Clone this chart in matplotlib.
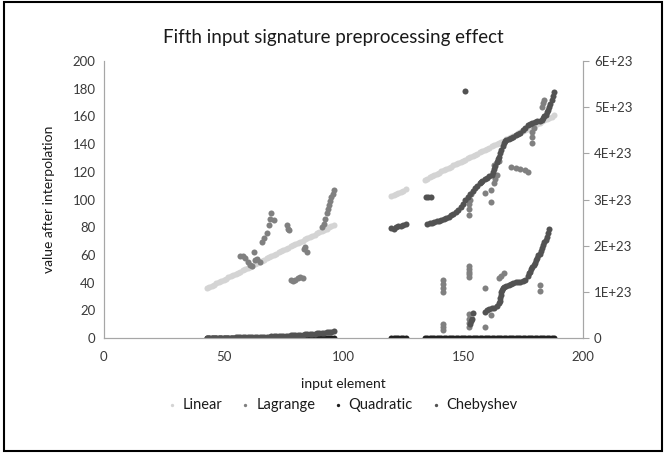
import matplotlib
matplotlib.use("Agg")
import matplotlib.pyplot as plt
from matplotlib.ticker import FuncFormatter, MultipleLocator
from matplotlib.patches import Rectangle
import numpy as np

plt.rcParams["font.family"] = ["Lato", "DejaVu Sans"]

# ---- data ----
linear_x = list(range(43, 97)) + list(range(120, 127)) + list(range(134, 189))
linear_y = [
    36.0, 36.9, 37.7, 38.6, 39.4, 40.3, 41.2, 42.0, 42.9, 43.7, 44.6, 45.5, 46.3, 47.2,
    48.0, 48.9, 49.8, 50.6, 51.5, 52.3, 53.2, 54.1, 54.9, 55.8, 56.6, 57.5, 58.4, 59.2,
    60.1, 60.9, 61.8, 62.7, 63.5, 64.4, 65.2, 66.1, 67.0, 67.8, 68.7, 69.5, 70.4, 71.3,
    72.1, 73.0, 73.8, 74.7, 75.6, 76.4, 77.3, 78.1, 79.0, 79.9, 80.7, 81.6,
    102.2, 103.1, 103.9, 104.8, 105.6, 106.5, 107.4,
    114.3, 115.1, 116.0, 116.8, 117.7, 118.6, 119.4, 120.3, 121.1, 122.0, 122.9, 123.7,
    124.6, 125.4, 126.3, 127.2, 128.0, 128.9, 129.7, 130.6, 131.5, 132.3, 133.2, 134.0,
    134.9, 135.8, 136.6, 137.5, 138.3, 139.2, 140.1, 140.9, 141.8, 142.6, 143.5, 144.4,
    145.2, 146.1, 146.9, 147.8, 148.7, 149.5, 150.4, 151.2, 152.1, 153.0, 153.8, 154.7,
    155.5, 156.4, 157.3, 158.1, 159.0, 159.8, 160.7,
]

lagrange_x = [
    57, 58, 59, 60, 61, 62, 62.6, 63, 64, 65, 66, 67, 68, 69, 69.5, 70, 71,
    76.5, 77, 77.5, 78, 79, 80, 81, 82, 83, 83.5, 84, 85,
    91, 92, 92.5, 93, 93.5, 94, 94.5, 95, 95.5, 96,
    141.5, 141.5, 141.5, 141.8, 141.8, 141.5, 141.8,
    152.5, 152.5, 152.5, 152.6, 152.5, 152.5, 152.5, 152.5, 152.6,
    159, 159, 161.8, 165, 166, 167, 182, 182.3,
    152.6, 152.6, 152.6, 153, 153.5, 159, 161.8, 161.8, 163, 163.5, 164,
    163, 164, 165, 170, 172, 174, 176, 177,
    178.6, 178.6, 179, 179.5, 182.8, 183.5, 184,
]
lagrange_y = [
    59, 59.5, 58, 55, 53, 52, 62, 56, 57, 55, 69.5, 72, 75.5, 81.6, 86, 90, 85,
    81.6, 79, 78, 42, 41.5, 42, 43, 44, 43, 64, 66, 62,
    80, 82, 86, 90, 93, 96, 99, 102, 104, 107,
    6, 8, 10, 33, 36, 39, 42,
    8, 11, 14, 17, 44, 46, 48, 50, 52,
    8, 36, 16.6, 43, 45, 47, 38, 34,
    89, 93, 97, 100, 104, 104.6, 107, 98, 112, 115, 118,
    125, 127, 128, 123.7, 123, 122, 121, 120,
    141, 145, 149, 152, 167, 170, 172,
]

quadratic_x = linear_x
quadratic_y = [0.0] * len(quadratic_x)

# Chebyshev on the secondary axis, values in units of 1E+23
chebyshev_x = [
    # near zero, first block
    43, 44, 45, 46, 47, 48, 49, 50, 51, 52, 53, 54, 55, 56, 57, 58, 59, 60, 61, 62,
    63, 64, 65, 66, 67, 68, 69, 70, 71, 72, 73, 74, 75, 76, 77, 78, 79, 80, 81, 82,
    83, 84, 85, 86, 87, 88, 89, 90, 91, 92, 93, 94, 95, 96,
    # short block
    120, 121, 122, 123, 124, 125, 126,
    134.5, 135.5, 136.5,
    # upper curve
    135, 136, 137, 138, 139, 140, 141, 142, 143, 144, 145, 146, 147, 148, 149, 150,
    151, 152, 153, 154, 155, 156, 157, 157.5, 158, 159, 160, 161, 162, 162.5, 163,
    163.5, 164, 164.5, 165, 165.5, 166, 166.5, 167, 167.5, 168, 169, 170, 171, 172,
    173, 174, 175, 176, 177, 178, 179, 180, 181, 182, 183, 183.5, 184, 184.5, 185,
    185.5, 186, 186.5, 187, 187.5, 188,
    # lower curve
    153, 153.3, 153.6, 154, 159, 160, 161, 162, 163, 164, 165, 165.3, 165.6, 165.8,
    166, 166.3, 166.6, 167, 168, 169, 170, 171, 172, 173, 174, 175, 176, 177, 177.5,
    178, 178.5, 179, 179.5, 180, 180.5, 181, 181.5, 182, 182.5, 183, 183.5, 184,
    184.5, 185, 185.5, 186,
    # outlier
    151,
]
chebyshev_e23 = [
    0.000, 0.001, 0.002, 0.003, 0.004, 0.0045, 0.005, 0.006, 0.007, 0.008, 0.009,
    0.010, 0.011, 0.012, 0.013, 0.0145, 0.016, 0.017, 0.018, 0.0195, 0.021, 0.0225,
    0.024, 0.026, 0.028, 0.030, 0.032, 0.034, 0.036, 0.0385, 0.041, 0.0435, 0.046,
    0.049, 0.052, 0.055, 0.058, 0.0615, 0.065, 0.069, 0.073, 0.077, 0.081, 0.0855,
    0.090, 0.095, 0.100, 0.106, 0.112, 0.1185, 0.125, 0.1325, 0.140, 0.150,
    2.38, 2.37, 2.40, 2.42, 2.43, 2.45, 2.46,
    3.05, 3.06, 3.06,
    2.475, 2.49, 2.50, 2.515, 2.53, 2.545, 2.56, 2.58, 2.60, 2.625, 2.655, 2.69, 2.73,
    2.78, 2.835, 2.91, 2.985, 3.06, 3.12, 3.18, 3.24, 3.30, 3.36, 3.38, 3.405, 3.435,
    3.465, 3.50, 3.54, 3.60, 3.66, 3.73, 3.81, 3.87, 3.93, 4.00, 4.08, 4.15, 4.23,
    4.26, 4.29, 4.305, 4.33, 4.35, 4.395, 4.42, 4.44, 4.50, 4.56, 4.62, 4.645, 4.665,
    4.68, 4.695, 4.71, 4.725, 4.76, 4.80, 4.84, 4.89, 4.95, 5.01, 5.08, 5.16, 5.25,
    5.34,
    0.30, 0.36, 0.42, 0.54, 0.57, 0.60, 0.63, 0.645, 0.66, 0.70, 0.75, 0.81, 0.87,
    0.93, 0.99, 1.04, 1.08, 1.11, 1.13, 1.14, 1.17, 1.20, 1.205, 1.21, 1.215, 1.24,
    1.26, 1.35, 1.40, 1.44, 1.49, 1.53, 1.58, 1.62, 1.68, 1.74, 1.79, 1.83, 1.89,
    1.95, 2.01, 2.07, 2.13, 2.19, 2.27, 2.37,
    5.36,
]

series_names = ["Linear", "Lagrange", "Quadratic", "Chebyshev"]
colors = ["#d4d4d4", "#808080", "#1e1e1e", "#525252"]

# ---- figure ----
fig = plt.figure(figsize=(6.66, 4.54), dpi=100)
ax = fig.add_axes([0.156, 0.2555, 0.719, 0.61])
ax2 = ax.twinx()

ms = 19
h1 = ax.scatter(linear_x, linear_y, s=ms, color=colors[0], linewidths=0, label=series_names[0])
h2 = ax.scatter(lagrange_x, lagrange_y, s=ms, color=colors[1], linewidths=0, label=series_names[1])
h3 = ax.scatter(quadratic_x, quadratic_y, s=ms, color=colors[2], linewidths=0,
                label=series_names[2], zorder=3)
h4 = ax2.scatter(chebyshev_x, np.array(chebyshev_e23) * 1e23, s=ms, color=colors[3],
                 linewidths=0, label=series_names[3])

ax.set_xlim(0, 200)
ax.set_ylim(0, 200)
ax2.set_ylim(0, 6e23)
ax.xaxis.set_major_locator(MultipleLocator(50))
ax.yaxis.set_major_locator(MultipleLocator(20))
ax2.yaxis.set_major_locator(MultipleLocator(1e23))
ax2.yaxis.set_major_formatter(
    FuncFormatter(lambda v, p: "0" if v == 0 else "%dE+23" % round(v / 1e23)))

spine_col = "#a6a6a6"
text_col = "#3a3a3a"
for a in (ax, ax2):
    a.spines["top"].set_visible(False)
    for s in ("left", "right", "bottom"):
        a.spines[s].set_color(spine_col)
ax.tick_params(axis="y", length=0, labelsize=9.5, colors=text_col, pad=6)
ax.tick_params(axis="x", length=0, labelsize=9.5, colors=text_col, pad=9)
ax2.tick_params(axis="y", length=4, color=spine_col, labelsize=9.5, labelcolor=text_col, pad=4)

ax.set_xlabel("input element", fontsize=10, color="#1a1a1a")
ax.set_ylabel("value after interpolation", fontsize=10, color="#1a1a1a")
ax.xaxis.set_label_coords(0.5, -0.145)
ax.yaxis.set_label_coords(-0.102, 0.5)

fig.text(0.5, 0.918, "Fifth input signature preprocessing effect", ha="center", va="center",
         fontsize=13.5, color="#1a1a1a")

fig.legend(handles=[h1, h2, h3, h4], loc="center", bbox_to_anchor=(0.515, 0.108), ncol=4,
           frameon=False, fontsize=10.5, handlelength=0.5, handletextpad=0.5,
           columnspacing=1.3, markerscale=0.55, labelcolor="#1a1a1a")

fig.patches.append(Rectangle((0.006, 0.006), 0.988, 0.99, transform=fig.transFigure,
                             fill=False, edgecolor="black", linewidth=1.5))

fig.savefig("out.png", dpi=100)
